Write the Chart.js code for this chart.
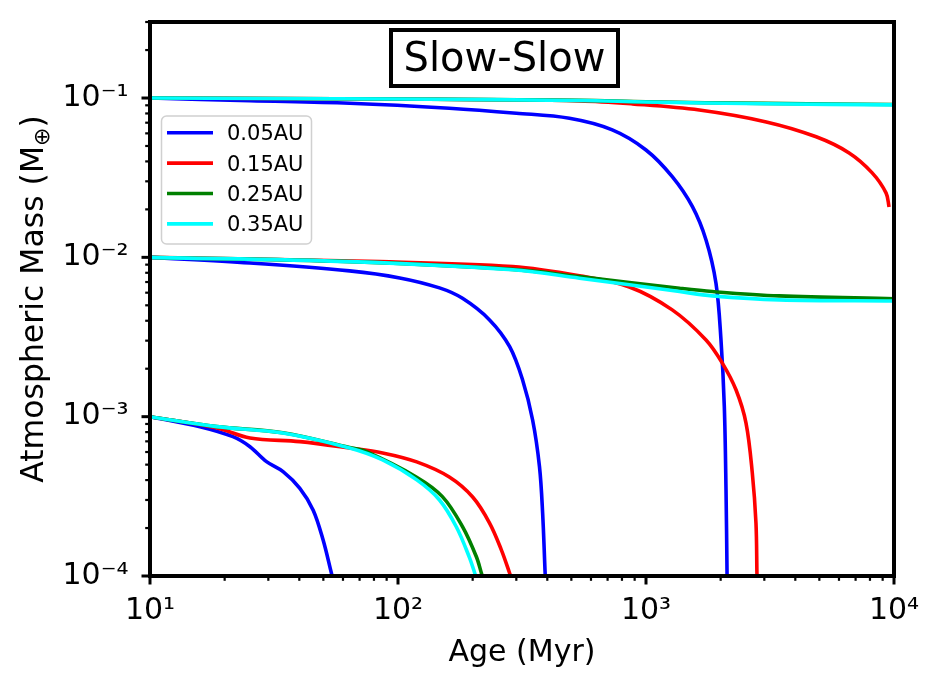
<!DOCTYPE html>
<html>
<head>
<meta charset="utf-8">
<script src="https://cdn.jsdelivr.net/npm/chart.js@4.4.1/dist/chart.umd.min.js"></script>
<style>
  html, body { margin: 0; padding: 0; background: #fff; }
</style>
</head>
<body>
<canvas id="myChart" width="939" height="682"></canvas>
<script>
const FONT = "'DejaVu Sans', sans-serif";

const seriesLabels = ["0.05AU", "0.15AU", "0.25AU", "0.35AU"];
const seriesColors = ["#0000ff", "#ff0000", "#008000", "#00ffff"];

// [age (Myr), atmospheric mass (M_earth)]
const a005_high = [[10, 0.1], [25.3, 0.0962], [63.8, 0.0927], [161, 0.0863], [300, 0.0803], [491, 0.0746], [731, 0.0631], [1000, 0.0472], [1276, 0.0321], [1539, 0.0208], [1746, 0.01285], [1915, 0.00687], [2006, 0.00303], [2069, 0.00116], [2102, 0.000347], [2122, 0.000104], [2125, 0.000078]];
const a005_mid = [[10, 0.01], [25.3, 0.00922], [63.8, 0.00822], [101.6, 0.00743], [147, 0.00643], [182, 0.00553], [234, 0.00405], [282, 0.00275], [318, 0.0017], [349, 0.000953], [372, 0.000485], [383, 0.000248], [392, 0.000104], [395.5, 0.000078]];
const a005_low = [[10, 0.001], [15.9, 0.000866], [21.6, 0.000749], [25.3, 0.000648], [29.5, 0.000522], [34.4, 0.000452], [40.2, 0.000355], [45.5, 0.000259], [49.9, 0.000168], [53.9, 0.000104], [56.5, 0.000078]];

const a015_high = [[10, 0.1], [100, 0.0985], [540, 0.096], [881, 0.0919], [1641, 0.0841], [3055, 0.0708], [4855, 0.0571], [6592, 0.0452], [8166, 0.0339], [9295, 0.0253], [9550, 0.0207]];
const a015_mid = [[10, 0.01], [84.3, 0.0094], [290, 0.00875], [539, 0.00766], [857, 0.00652], [1276, 0.00468], [1746, 0.00303], [2031, 0.00217], [2308, 0.00147], [2531, 0.000912], [2683, 0.000444], [2776, 0.000215], [2801, 0.000104], [2810, 0.000078]];
const a015_low = [[10, 0.001], [18.6, 0.000849], [25.3, 0.000735], [40.2, 0.000697], [63.8, 0.000636], [86.7, 0.000592], [119, 0.00052], [161, 0.000418], [200, 0.000313], [234, 0.000215], [261, 0.000146], [282, 0.000104], [300, 0.000078]];

const a025_high = [[10, 0.1], [100, 0.0985], [540, 0.0966], [1000, 0.0947], [3000, 0.0925], [10000, 0.091]];
const a025_mid = [[10, 0.01], [63.8, 0.0094], [290, 0.0084], [539, 0.00757], [1364, 0.0064], [1850, 0.0061], [3443, 0.00573], [10000, 0.0055]];
const a025_low = [[10, 0.001], [18.6, 0.000866], [34.3, 0.000792], [63.8, 0.00064], [74.6, 0.000603], [118, 0.00042], [151, 0.000315], [182, 0.000204], [207, 0.000132], [217, 0.000104], [229, 0.000078]];

const a035_high = [[10, 0.1], [100, 0.0985], [540, 0.0965], [1000, 0.0945], [3000, 0.092], [10000, 0.0906]];
const a035_mid = [[10, 0.01], [63.8, 0.0094], [290, 0.00835], [539, 0.0074], [1364, 0.0061], [1850, 0.00573], [3443, 0.00541], [10000, 0.00532]];
const a035_low = [[10, 0.001], [18.6, 0.000866], [34.3, 0.00079], [63.8, 0.000636], [86.7, 0.000535], [119, 0.000401], [147, 0.0003], [172, 0.000203], [194, 0.000131], [204, 0.000104], [216, 0.000078]];

const xTickValues = [10, 100, 1000, 10000];
const xTickLabels = ["10\u00b9", "10\u00b2", "10\u00b3", "10\u2074"];
const yTickValues = [1e-4, 1e-3, 1e-2, 1e-1];
const yTickLabels = ["10\u207b\u2074", "10\u207b\u00b3", "10\u207b\u00b2", "10\u207b\u00b9"];

const curves = [
  [a005_high, a005_mid, a005_low],
  [a015_high, a015_mid, a015_low],
  [a025_high, a025_mid, a025_low],
  [a035_high, a035_mid, a035_low],
];

const datasets = [];
curves.forEach((group, i) => {
  group.forEach((pts) => {
    datasets.push({
      label: seriesLabels[i],
      data: pts.map(([x, y]) => ({ x, y })),
      borderColor: seriesColors[i],
      backgroundColor: seriesColors[i],
      borderWidth: 3.6,
      pointRadius: 0,
      fill: false,
      tension: 0.35,
      clip: 0,
      order: 3 - i,
    });
  });
});

function logTicks(decades, min, max) {
  const out = [];
  decades.forEach((d) => {
    for (let m = 1; m < 10; m++) {
      const v = m === 1 ? d : m * d;
      if (v >= min * 0.999 && v <= max * 1.001) out.push({ value: v, major: m === 1 });
    }
  });
  return out;
}

const frame = {
  id: "frame",
  afterDatasetsDraw(chart) {
    const { ctx, chartArea: a, scales } = chart;
    const x = scales.x, y = scales.y;
    ctx.save();
    ctx.strokeStyle = "#000";

    // tick marks, outward, bottom and left only
    x.ticks.forEach((t) => {
      const px = x.getPixelForValue(t.value);
      ctx.lineWidth = t.major ? 3 : 2.2;
      ctx.beginPath();
      ctx.moveTo(px, a.bottom);
      ctx.lineTo(px, a.bottom + (t.major ? 8.5 : 4.8));
      ctx.stroke();
    });
    y.ticks.forEach((t) => {
      const py = y.getPixelForValue(t.value);
      ctx.lineWidth = t.major ? 3 : 2.2;
      ctx.beginPath();
      ctx.moveTo(a.left, py);
      ctx.lineTo(a.left - (t.major ? 8.5 : 4.8), py);
      ctx.stroke();
    });

    // spines
    ctx.lineWidth = 4;
    ctx.strokeRect(a.left, a.top, a.right - a.left, a.bottom - a.top);

    // title box
    ctx.font = "40px " + FONT;
    ctx.fillStyle = "#fff";
    ctx.fillRect(391, 30, 227, 56);
    ctx.strokeRect(391, 30, 227, 56);
    ctx.fillStyle = "#000";
    ctx.textAlign = "center";
    ctx.textBaseline = "alphabetic";
    ctx.fillText("Slow-Slow", 504.5, 71);

    // legend
    const lx = 161.5, ly = 116, lw = 150, lh = 128, r = 5;
    ctx.beginPath();
    ctx.moveTo(lx + r, ly);
    ctx.arcTo(lx + lw, ly, lx + lw, ly + lh, r);
    ctx.arcTo(lx + lw, ly + lh, lx, ly + lh, r);
    ctx.arcTo(lx, ly + lh, lx, ly, r);
    ctx.arcTo(lx, ly, lx + lw, ly, r);
    ctx.closePath();
    ctx.fillStyle = "rgba(255,255,255,0.8)";
    ctx.fill();
    ctx.lineWidth = 1.5;
    ctx.strokeStyle = "#d0d0d0";
    ctx.stroke();
    ctx.font = "21px " + FONT;
    ctx.textAlign = "left";
    ctx.textBaseline = "middle";
    seriesLabels.forEach((lab, i) => {
      const yy = 132.7 + i * 30.4;
      ctx.strokeStyle = seriesColors[i];
      ctx.lineWidth = 3.6;
      ctx.beginPath();
      ctx.moveTo(167, yy);
      ctx.lineTo(213, yy);
      ctx.stroke();
      ctx.fillStyle = "#000";
      ctx.fillText(lab, 227, yy + 2);
    });

    // y axis title with subscript
    const size = 31.5;
    const main = "Atmospheric Mass (M", sub = "\u2295", tail = ")";
    ctx.font = size + "px " + FONT;
    const w1 = ctx.measureText(main).width;
    const w3 = ctx.measureText(tail).width;
    ctx.font = size * 0.7 + "px " + FONT;
    const w2 = ctx.measureText(sub).width;
    ctx.translate(43, (a.top + a.bottom) / 2);
    ctx.rotate(-Math.PI / 2);
    ctx.textBaseline = "alphabetic";
    ctx.textAlign = "left";
    let xx = -(w1 + w2 + w3) / 2;
    ctx.font = size + "px " + FONT;
    ctx.fillText(main, xx, 0);
    xx += w1;
    ctx.font = size * 0.7 + "px " + FONT;
    ctx.fillText(sub, xx, size * 0.2);
    xx += w2;
    ctx.font = size + "px " + FONT;
    ctx.fillText(tail, xx, 0);
    ctx.restore();
  },
};

new Chart(document.getElementById("myChart"), {
  type: "line",
  data: { datasets },
  options: {
    responsive: false,
    animation: false,
    devicePixelRatio: 1,
    events: [],
    layout: { padding: { top: 22, right: 45, left: 0, bottom: 0 } },
    plugins: { legend: { display: false }, tooltip: { enabled: false } },
    scales: {
      x: {
        type: "logarithmic",
        min: 10,
        max: 10000,
        afterBuildTicks: (s) => { s.ticks = logTicks(xTickValues, 10, 10000); },
        afterFit: (s) => { s.height = 106; s.paddingLeft = 0; s.paddingRight = 0; },
        grid: { display: true, drawOnChartArea: false, drawTicks: true, tickLength: 8.5, color: "rgba(0,0,0,0)" },
        border: { display: false },
        ticks: {
          autoSkip: false, maxRotation: 0, minRotation: 0, padding: 9, color: "#000",
          font: { family: FONT, size: 30 },
          callback: (v) => { const k = xTickValues.indexOf(v); return k >= 0 ? xTickLabels[k] : ""; },
        },
        title: { display: true, text: "Age (Myr)", color: "#000", font: { family: FONT, size: 30 }, padding: { top: 0, bottom: 11 } },
      },
      y: {
        type: "logarithmic",
        min: 1e-4,
        max: 0.3,
        afterBuildTicks: (s) => { s.ticks = logTicks(yTickValues, 1e-4, 0.3); },
        afterFit: (s) => { s.width = 150; s.paddingTop = 0; s.paddingBottom = 0; },
        grid: { display: true, drawOnChartArea: false, drawTicks: true, tickLength: 8.5, color: "rgba(0,0,0,0)" },
        border: { display: false },
        ticks: {
          autoSkip: false, padding: 13, color: "#000",
          font: { family: FONT, size: 30 },
          callback: (v) => { const k = yTickValues.indexOf(v); return k >= 0 ? yTickLabels[k] : ""; },
        },
      },
    },
  },
  plugins: [frame],
});
</script>
</body>
</html>
